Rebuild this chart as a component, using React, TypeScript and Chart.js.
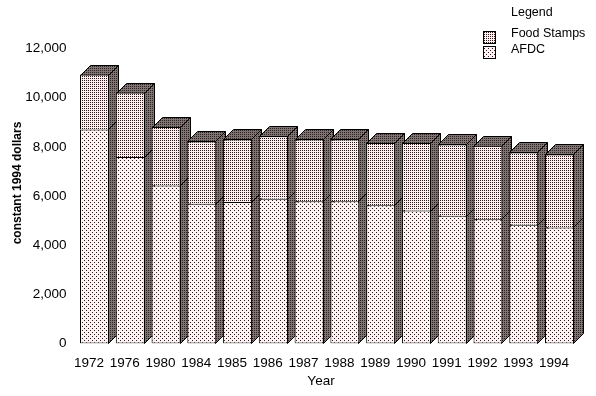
import React, { useEffect, useRef } from "react";
import { Chart, registerables } from "chart.js";

Chart.register(...registerables);

const years = ["1972", "1976", "1980", "1984", "1985", "1986", "1987", "1988", "1989", "1990", "1991", "1992", "1993", "1994"];
const afdc = [8710, 7590, 6430, 5680, 5760, 5890, 5790, 5790, 5620, 5410, 5200, 5050, 4830, 4720];
const foodStamps = [2230, 2620, 2380, 2540, 2540, 2540, 2510, 2510, 2540, 2750, 2900, 2990, 2940, 2970];
const yTickValues = [0, 2000, 4000, 6000, 8000, 10000, 12000];
const legendTitle = "Legend";
const seriesFood = "Food Stamps";
const seriesAfdc = "AFDC";
const xTitle = "Year";
const yTitle = "constant 1994 dollars";

const FONT = "Arial, 'Liberation Sans', sans-serif";

function makePattern(base: string, dot: string, size: number, isDot: (x: number, y: number) => boolean) {
  const c = document.createElement("canvas");
  c.width = size;
  c.height = size;
  const g = c.getContext("2d")!;
  g.fillStyle = base;
  g.fillRect(0, 0, size, size);
  g.fillStyle = dot;
  for (let y = 0; y < size; y++) {
    for (let x = 0; x < size; x++) {
      if (isDot(x, y)) g.fillRect(x, y, 1, 1);
    }
  }
  return g.createPattern(c, "repeat")!;
}

export default function App() {
  const ref = useRef<HTMLCanvasElement | null>(null);

  useEffect(() => {
    if (!ref.current) return;
    const foodPat = makePattern("#ffeef0", "#2a1a1a", 2, (x, y) => x === 0 && y === 0);
    const afdcPat = makePattern("#fff2f4", "#2a1a1a", 4, (x, y) => (x === 0 && y === 0) || (x === 2 && y === 2));
    const depthPat = makePattern("#7f7373", "#2a2020", 2, (x, y) => x === 0 && y === 0);

    const depthPlugin = {
      id: "depth3d",
      beforeDatasetsDraw(chart: any) {
        const ctx = chart.ctx as CanvasRenderingContext2D;
        const m0 = chart.getDatasetMeta(0);
        const m1 = chart.getDatasetMeta(1);
        const d = 10;
        ctx.save();
        ctx.lineWidth = 1;
        ctx.strokeStyle = "#000";
        for (let i = 0; i < years.length; i++) {
          const p0 = m0.data[i].getProps(["x", "y", "base", "width"], true);
          const p1 = m1.data[i].getProps(["x", "y", "base", "width"], true);
          const L = Math.round(p0.x - p0.width / 2) + 0.5;
          const R = Math.round(p0.x + p0.width / 2) - 0.5;
          const B = Math.round(p0.base) - 0.5;
          const M = Math.round(p0.y) + 0.5;
          const T = Math.round(p1.y) + 0.5;
          // side face
          ctx.beginPath();
          ctx.moveTo(R, T);
          ctx.lineTo(R + d, T - d);
          ctx.lineTo(R + d, B - d);
          ctx.lineTo(R, B);
          ctx.closePath();
          ctx.fillStyle = depthPat;
          ctx.fill();
          ctx.stroke();
          // top face
          ctx.beginPath();
          ctx.moveTo(L, T);
          ctx.lineTo(L + d, T - d);
          ctx.lineTo(R + d, T - d);
          ctx.lineTo(R, T);
          ctx.closePath();
          ctx.fillStyle = depthPat;
          ctx.fill();
          ctx.stroke();
          // split line on side
          ctx.beginPath();
          ctx.moveTo(R, M);
          ctx.lineTo(R + d, M - d);
          ctx.stroke();
        }
        ctx.restore();
      },
    };

    const textPlugin = {
      id: "texts",
      afterDraw(chart: any) {
        const ctx = chart.ctx as CanvasRenderingContext2D;
        ctx.save();
        ctx.fillStyle = "#000";
        // y title
        ctx.save();
        ctx.translate(18, 183);
        ctx.rotate(-Math.PI / 2);
        ctx.font = `bold 12px ${FONT}`;
        ctx.textAlign = "center";
        ctx.textBaseline = "middle";
        ctx.fillText(yTitle, 0, 0);
        ctx.restore();
        // x title
        ctx.font = `13.5px ${FONT}`;
        ctx.textAlign = "center";
        ctx.textBaseline = "middle";
        ctx.fillText(xTitle, 321, 381);
        // legend
        ctx.font = `12.5px ${FONT}`;
        ctx.textAlign = "left";
        ctx.fillText(legendTitle, 511, 13);
        ctx.fillText(seriesFood, 511, 34);
        ctx.fillText(seriesAfdc, 511, 50);
        ctx.lineWidth = 1;
        ctx.strokeStyle = "#000";
        ctx.fillStyle = foodPat;
        ctx.fillRect(483.5, 31.5, 12, 12);
        ctx.strokeRect(483.5, 31.5, 12, 12);
        ctx.fillStyle = afdcPat;
        ctx.fillRect(483.5, 46.5, 12, 12);
        ctx.strokeRect(483.5, 46.5, 12, 12);
        ctx.restore();
      },
    };

    const chart = new Chart(ref.current, {
      type: "bar",
      data: {
        labels: years,
        datasets: [
          {
            label: seriesAfdc,
            data: afdc,
            backgroundColor: afdcPat as any,
            borderColor: "#000",
            borderWidth: 1,
            borderSkipped: false,
          },
          {
            label: seriesFood,
            data: foodStamps,
            backgroundColor: foodPat as any,
            borderColor: "#000",
            borderWidth: 1,
            borderSkipped: "start",
          },
        ],
      },
      options: {
        responsive: false,
        animation: false,
        events: [],
        layout: { padding: { top: 48.5, right: 18.6, left: 0, bottom: 0 } },
        datasets: { bar: { categoryPercentage: 1, barPercentage: 0.81 } },
        plugins: { legend: { display: false }, tooltip: { enabled: false }, title: { display: false } },
        scales: {
          x: {
            stacked: true,
            grid: { display: false, drawTicks: false },
            border: { display: false },
            ticks: {
              font: { family: FONT, size: 13.5 },
              color: "#000",
              padding: 12,
              labelOffset: -5.5,
              maxRotation: 0,
              autoSkip: false,
            },
            afterFit: (s: any) => {
              s.height = 52.5;
            },
          },
          y: {
            stacked: true,
            min: 0,
            max: 12000,
            grid: { display: false, drawTicks: false },
            border: { display: false },
            afterBuildTicks: (s: any) => {
              s.ticks = yTickValues.map((v) => ({ value: v }));
            },
            ticks: {
              font: { family: FONT, size: 13.5 },
              color: "#000",
              padding: 10,
              callback: (v: any) => Number(v).toLocaleString("en-US"),
            },
            afterFit: (s: any) => {
              s.width = 76.6;
            },
          },
        },
      },
      plugins: [depthPlugin, textPlugin],
    });
    return () => chart.destroy();
  }, []);

  return (
    <div style={{ position: "fixed", left: 0, top: 0, width: 596, height: 396, background: "#fff" }}>
      <canvas ref={ref} width={596} height={396} />
    </div>
  );
}
